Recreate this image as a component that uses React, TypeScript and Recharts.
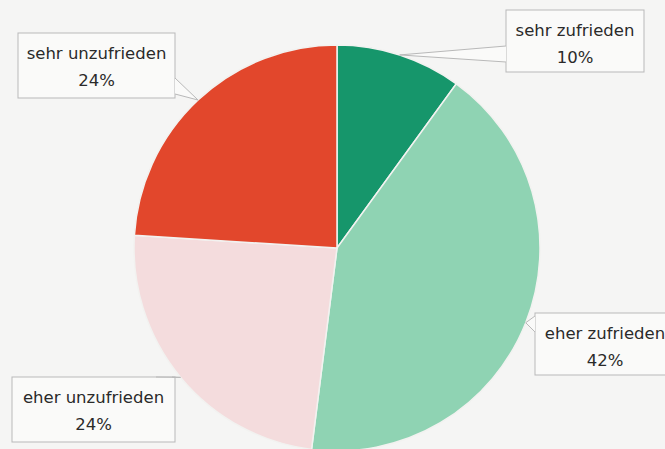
import React from 'react';
import { PieChart, Pie, Cell } from 'recharts';

const categories = ['sehr zufrieden', 'eher zufrieden', 'eher unzufrieden', 'sehr unzufrieden'];
const shares = [10, 42, 24, 24];
const colors = ['#16966b', '#8fd3b3', '#f4dcdd', '#e2472c'];

// callout boxes: box rect + two base points of the tail on the box edge
const callouts = [
  { x: 506, y: 10, w: 138, h: 62, base: [[506, 46], [506, 62]] },
  { x: 535, y: 313, w: 140, h: 62, base: [[535, 316], [535, 332]] },
  { x: 12, y: 377, w: 163, h: 65, base: [[156, 377], [172, 377]] },
  { x: 18, y: 33, w: 157, h: 65, base: [[175, 78], [175, 94]] },
];

const data = categories.map((name, i) => ({ name, value: shares[i] }));

const RAD = Math.PI / 180;
const FONT = "'DejaVu Sans', sans-serif";

const renderCallout = (props: any) => {
  const { cx, cy, midAngle, outerRadius, index, name, value } = props;
  const c = callouts[index];
  const tx = cx + outerRadius * Math.cos(-midAngle * RAD);
  const ty = cy + outerRadius * Math.sin(-midAngle * RAD);
  const [[ax, ay], [bx, by]] = c.base;
  return (
    <g>
      <rect x={c.x} y={c.y} width={c.w} height={c.h} fill="#fafaf9" stroke="#b9b9b9" strokeWidth={1} />
      <polygon points={`${ax},${ay} ${bx},${by} ${tx},${ty}`} fill="#fafaf9" stroke="none" />
      <line x1={ax} y1={ay} x2={tx} y2={ty} stroke="#b9b9b9" strokeWidth={1} />
      <line x1={bx} y1={by} x2={tx} y2={ty} stroke="#b9b9b9" strokeWidth={1} />
      <text x={c.x + c.w / 2} y={c.y + 26} textAnchor="middle" fontSize={16.5} fill="#2a2a2a" fontFamily={FONT}>
        {name}
      </text>
      <text x={c.x + c.w / 2} y={c.y + 53} textAnchor="middle" fontSize={16.5} fill="#2a2a2a" fontFamily={FONT}>
        {value}%
      </text>
    </g>
  );
};

export default function App() {
  return (
    <div style={{ position: 'absolute', left: 0, top: 0, width: 665, height: 449, background: '#f5f5f4' }}>
      <PieChart width={665} height={449} margin={{ top: 0, right: 0, bottom: 0, left: 0 }}>
        <Pie
          data={data}
          dataKey="value"
          nameKey="name"
          cx={337}
          cy={248}
          outerRadius={203}
          startAngle={90}
          endAngle={-270}
          stroke="#f2f2f0"
          strokeWidth={1.5}
          label={renderCallout}
          labelLine={false}
          isAnimationActive={false}
        >
          {data.map((d, i) => (
            <Cell key={d.name} fill={colors[i]} />
          ))}
        </Pie>
      </PieChart>
    </div>
  );
}
